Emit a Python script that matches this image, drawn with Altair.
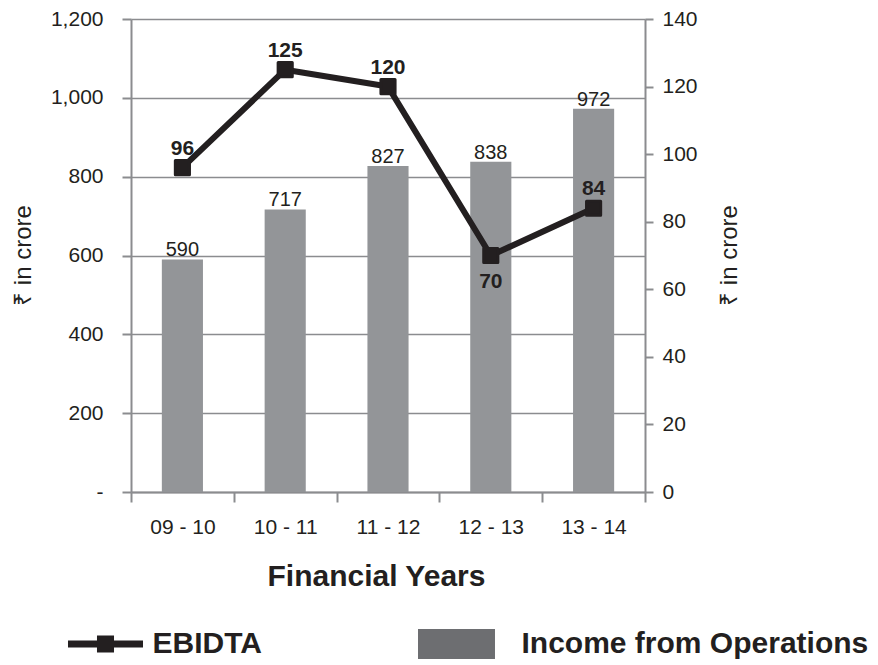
import json
import altair as alt
import pandas as pd

years = ["09 - 10", "10 - 11", "11 - 12", "12 - 13", "13 - 14"]
income = [590, 717, 827, 838, 972]
ebidta = [96, 125, 120, 70, 84]
left_ticks = [0, 200, 400, 600, 800, 1000, 1200]
right_ticks = [0, 20, 40, 60, 80, 100, 120, 140]
line_series = "EBIDTA"
bar_series = "Income from Operations"
below_label_years = ["12 - 13"]

df = pd.DataFrame({"year": years, "income": income, "ebidta": ebidta})

FONT = "Liberation Sans, Arial, sans-serif"
INK = "#231f20"
AX = "#8b8c8f"
BAR = "#939598"
SWATCH = "#6d6e71"

LINE_PATH = "M-0.987,-0.092H0.987V0.092H-0.987Z M-0.224,-0.224H0.224V0.224H-0.224Z"
BOX_PATH = "M-0.987,-0.385H0.987V0.385H-0.987Z"

x_enc = alt.X(
    "year:N", sort=years, title="Financial Years",
    scale=alt.Scale(paddingInner=0, paddingOuter=0),
    axis=alt.Axis(
        labelAngle=0, tickBand="extent", tickSize=10, tickWidth=2, tickColor=AX,
        domainColor=AX, domainWidth=2, labelPadding=14,
        labelFont=FONT, labelFontSize=21, labelColor=INK,
        titleFont=FONT, titleFontSize=30, titleFontWeight="bold", titleColor=INK,
        titleX=245, titleY=93, titleBaseline="alphabetic", titleAlign="center",
    ),
)

y_left = alt.Y(
    "income:Q", title="₹ in crore",
    scale=alt.Scale(domain=[0, 1200], nice=False, zero=True),
    axis=alt.Axis(
        orient="left", values=left_ticks,
        labelExpr="datum.value == 0 ? '-' : format(datum.value, ',')",
        grid=True, gridColor=AX, gridWidth=1.5,
        domainColor=AX, domainWidth=2, tickColor=AX, tickWidth=2, tickSize=9,
        labelPadding=19, labelFont=FONT, labelFontSize=21, labelColor=INK,
        labelBaseline="middle",
        titleFont=FONT, titleFontSize=24, titleFontWeight="normal", titleColor=INK,
        titleAngle=270, titleX=-108, titleY=236, titleAlign="center",
        titleBaseline="middle",
    ),
)

y_right = alt.Y(
    "ebidta:Q", title="₹ in crore",
    scale=alt.Scale(domain=[0, 140], nice=False, zero=True),
    axis=alt.Axis(
        orient="right", values=right_ticks, grid=False,
        domainColor=AX, domainWidth=2, tickColor=AX, tickWidth=2, tickSize=8,
        labelPadding=9, labelFont=FONT, labelFontSize=21, labelColor=INK,
        labelBaseline="middle",
        titleFont=FONT, titleFontSize=24, titleFontWeight="normal", titleColor=INK,
        titleAngle=270, titleX=84, titleY=236, titleAlign="center",
        titleBaseline="middle",
    ),
)

legend_common = dict(
    orient="none", direction="horizontal", title=None, padding=0,
    labelFont=FONT, labelFontSize=30, labelFontWeight="bold", labelColor=INK,
    labelBaseline="middle", labelLimit=600, symbolOpacity=1, symbolStrokeWidth=0,
)

bar_legend = alt.Legend(
    legendX=286.5, legendY=586, symbolSize=6084, labelOffset=26,
    symbolType=BOX_PATH, **legend_common,
)
line_legend = alt.Legend(
    legendX=-63.5, legendY=587, symbolSize=5776, labelOffset=9,
    symbolType=LINE_PATH, symbolFillColor=INK, **legend_common,
)

base = alt.Chart(df)

bar_width = alt.RelativeBandSize(0.4)

bars = base.mark_bar(color=BAR, width=bar_width).encode(x=x_enc, y=y_left)

# zero-height bars that only carry the legend entry for the bar series
bar_key = base.transform_calculate(series=f"'{bar_series}'").mark_bar(width=bar_width).encode(
    x=x_enc,
    y=alt.Y(datum=0),
    fill=alt.Fill("series:N", scale=alt.Scale(domain=[bar_series], range=[SWATCH]),
                  legend=bar_legend),
)

bar_text = base.mark_text(
    baseline="alphabetic", dy=-3, font=FONT, fontSize=20, color=INK
).encode(x=x_enc, y=y_left, text="income:Q")

line = base.transform_calculate(series=f"'{line_series}'").mark_line(strokeJoin="round").encode(
    x=x_enc, y=y_right,
    stroke=alt.Stroke("series:N", scale=alt.Scale(domain=[line_series], range=[INK]),
                      legend=line_legend),
    strokeWidth=alt.value(6),
)
pts = base.mark_point(
    shape="square", filled=True, size=200, strokeWidth=3, strokeJoin="round",
    opacity=1, color=INK, stroke=INK,
).encode(x=x_enc, y=y_right)

below_json = json.dumps(below_label_years)
lab_up = base.transform_filter(
    f"indexof({below_json}, datum.year) < 0"
).mark_text(
    baseline="alphabetic", dy=-13, font=FONT, fontSize=21, fontWeight="bold", color=INK
).encode(x=x_enc, y=y_right, text="ebidta:Q")
lab_down = base.transform_filter(
    f"indexof({below_json}, datum.year) >= 0"
).mark_text(
    baseline="top", dy=15, font=FONT, fontSize=21, fontWeight="bold", color=INK
).encode(x=x_enc, y=y_right, text="ebidta:Q")

left = alt.layer(bars, bar_key, bar_text)
right = alt.layer(line, pts, lab_up, lab_down)

chart = alt.layer(left, right).resolve_scale(y="independent").properties(
    width=514, height=473,
    padding={"left": 123, "top": 11, "right": 225, "bottom": 170},
    autosize=alt.AutoSizeParams(type="none"),
).configure_view(strokeWidth=0).configure(background="white")

chart.save("out.html", embed_options={"renderer": "svg", "actions": False})
